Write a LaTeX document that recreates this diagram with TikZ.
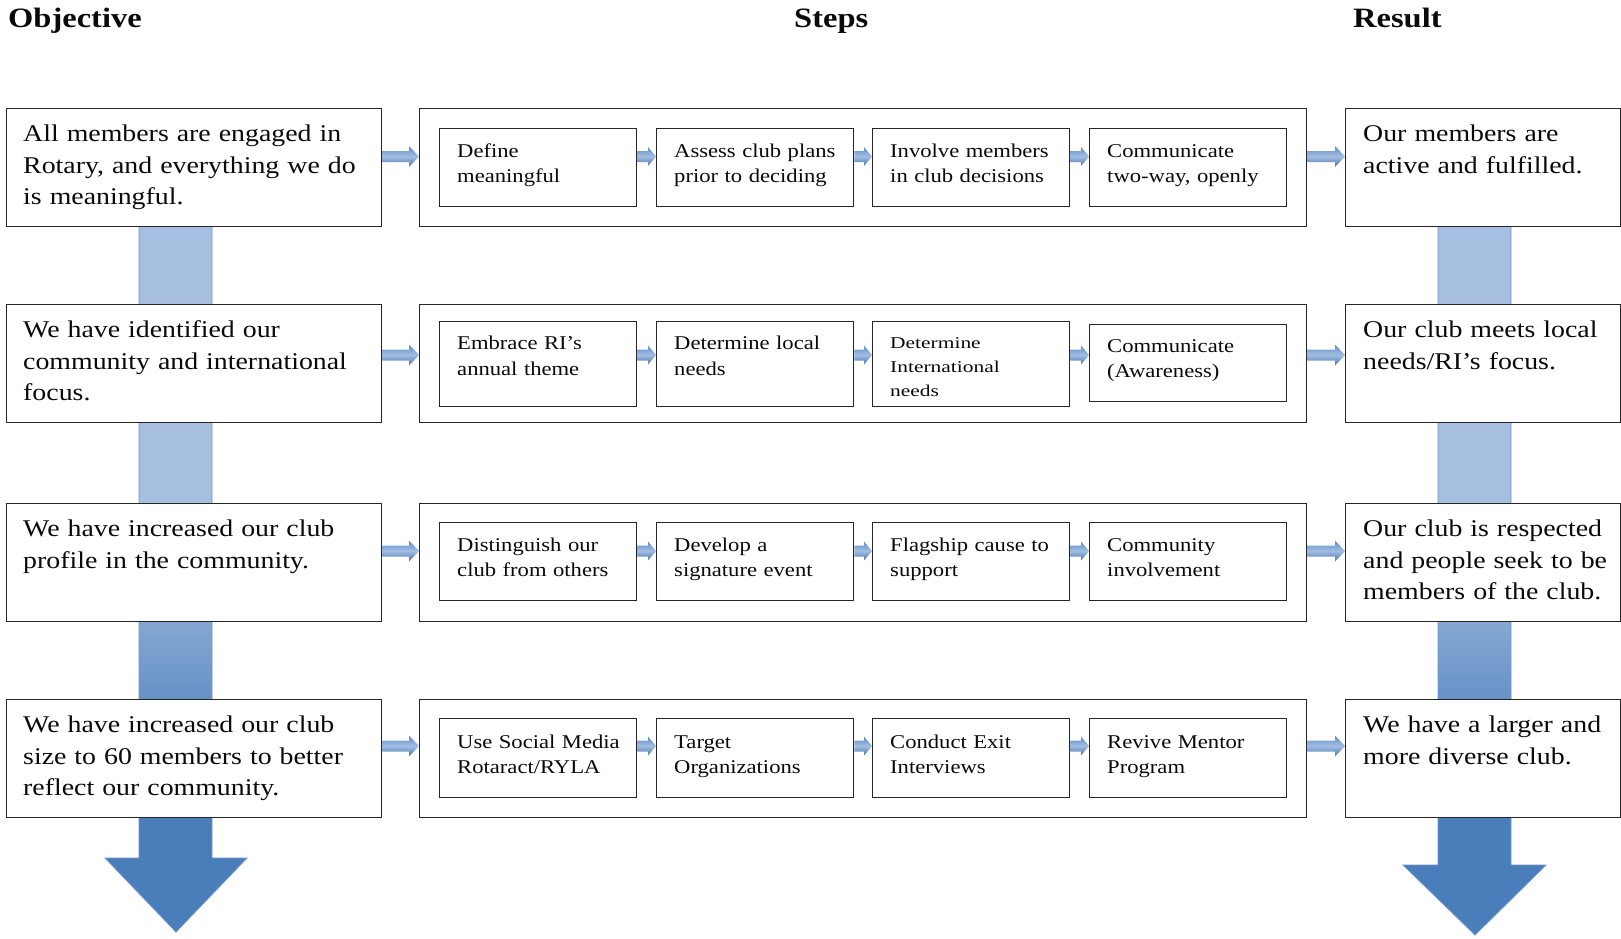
\documentclass[tikz,border=0pt]{standalone}
\usepackage{fontspec}
\setmainfont{Liberation Serif}[FakeStretch=1.16]
\newfontfamily\widefont{Liberation Serif}[FakeStretch=1.3]
\usetikzlibrary{calc}
\definecolor{arrdark}{HTML}{4A7EBB}
\definecolor{arrlight}{HTML}{A6BEE0}
\definecolor{arredge}{HTML}{7096C8}
\definecolor{boxline}{HTML}{262626}
\definecolor{txt}{HTML}{0A0A0A}
\definecolor{harrtop}{HTML}{5F8DC8}
\definecolor{harrmid}{HTML}{A3BEE2}
\definecolor{harrbot}{HTML}{4573AE}
\pgfdeclareverticalshading{bigarrowshade}{100bp}{color(0bp)=(arrdark); color(36bp)=(arrdark); color(52bp)=(arrlight); color(100bp)=(arrlight)}
\newcommand\objfont{\fontsize{24}{31.5}\selectfont}
\newcommand\stepfont{\fontsize{19.5}{25.5}\selectfont}
\newcommand\narrowstepfont{\widefont\fontsize{16.5}{24}\selectfont}
\newcommand\headfont{\fontsize{28}{32}\selectfont\bfseries}
\newcommand\blockarr[5]{\shade[harrow] ($#1+(0,-#3)$) -- ($#2+(-#5,-#3)$) -- ($#2+(-#5,-#4)$) -- #2 -- ($#2+(-#5,#4)$) -- ($#2+(-#5,#3)$) -- ($#1+(0,#3)$) -- cycle;}
\begin{document}
\begin{tikzpicture}[x=1pt,y=-1pt,
  harrow/.style={top color=harrtop, bottom color=harrbot, middle color=harrmid},
  box/.style={draw=boxline, line width=1.3pt, fill=white, inner sep=0pt, anchor=north west},
  objbox/.style={box, minimum width=375pt, minimum height=118pt},
  stepsbox/.style={box, minimum width=887pt, minimum height=118pt},
  resbox/.style={box, minimum width=274.5pt, minimum height=118pt},
  innerbox/.style={box, minimum width=197pt, minimum height=78pt},
  bodytext/.style={anchor=base west, inner sep=0pt, align=left, text=txt, font=\objfont, text width=352pt},
  restext/.style={bodytext, text width=256pt},
  steptext/.style={anchor=base west, inner sep=0pt, align=left, text=txt, font=\stepfont, text width=186pt},
  headtext/.style={anchor=base west, inner sep=0pt, text=txt, font=\headfont}]
\useasboundingbox (0,0) rectangle (1621,938);
\fill[white] (0,0) rectangle (1621,938);
% headings
\node[headtext] (hObj) at (8,27) {Objective};
\node[headtext] (hSteps) at (794,27) {Steps};
\node[headtext] (hRes) at (1353,27) {Result};
% big vertical arrows
\shadedraw[shading=bigarrowshade, draw=arredge, line width=0.8pt] (139,200) -- (212,200) -- (212,858) -- (247,858) -- (176,932) -- (105,858) -- (139,858) -- cycle;
\shadedraw[shading=bigarrowshade, draw=arredge, line width=0.8pt] (1438,200) -- (1511,200) -- (1511,865) -- (1546,865) -- (1475,935) -- (1403,865) -- (1438,865) -- cycle;
% row coordinates
\coordinate (r1) at (0,156.5);
\coordinate (r2) at (0,355);
\coordinate (r3) at (0,551);
\coordinate (r4) at (0,746);
% row 1
\node[objbox] (L1) at (6,108) {};
\node[stepsbox] (S1) at (419,108) {};
\node[resbox] (R1) at (1345,108) {};
\node[innerbox] (S1a) at (439,128) {};
\node[innerbox] (S1b) at (656,128) {};
\node[innerbox] (S1c) at (872,128) {};
\node[innerbox] (S1d) at (1089,128) {};
% row 2
\node[objbox] (L2) at (6,304) {};
\node[stepsbox] (S2) at (419,304) {};
\node[resbox] (R2) at (1345,304) {};
\node[innerbox, minimum height=85pt] (S2a) at (439,320.5) {};
\node[innerbox, minimum height=85pt] (S2b) at (656,320.5) {};
\node[innerbox, minimum height=85pt] (S2c) at (872,320.5) {};
\node[innerbox, minimum height=77pt] (S2d) at (1089,324) {};
% row 3
\node[objbox] (L3) at (6,503) {};
\node[stepsbox] (S3) at (419,503) {};
\node[resbox] (R3) at (1345,503) {};
\node[innerbox] (S3a) at (439,522) {};
\node[innerbox] (S3b) at (656,522) {};
\node[innerbox] (S3c) at (872,522) {};
\node[innerbox] (S3d) at (1089,522) {};
% row 4
\node[objbox] (L4) at (6,699) {};
\node[stepsbox] (S4) at (419,699) {};
\node[resbox] (R4) at (1345,699) {};
\node[innerbox, minimum height=79pt] (S4a) at (439,718) {};
\node[innerbox, minimum height=79pt] (S4b) at (656,718) {};
\node[innerbox, minimum height=79pt] (S4c) at (872,718) {};
\node[innerbox, minimum height=79pt] (S4d) at (1089,718) {};
% texts
\node[bodytext] (L1t) at ($(L1.north west)+(17,33.5)$) {All members are engaged in\\Rotary, and everything we do\\is meaningful.};
\node[bodytext] (L2t) at ($(L2.north west)+(17,33.5)$) {We have identified our\\community and international\\focus.};
\node[bodytext] (L3t) at ($(L3.north west)+(17,33.5)$) {We have increased our club\\profile in the community.};
\node[bodytext] (L4t) at ($(L4.north west)+(17,33.5)$) {We have increased our club\\size to 60 members to better\\reflect our community.};
\node[restext] (R1t) at ($(R1.north west)+(18,33.5)$) {Our members are\\active and fulfilled.};
\node[restext] (R2t) at ($(R2.north west)+(18,33.5)$) {Our club meets local\\needs/RI’s focus.};
\node[restext] (R3t) at ($(R3.north west)+(18,33.5)$) {Our club is respected\\and people seek to be\\members of the club.};
\node[restext] (R4t) at ($(R4.north west)+(18,33.5)$) {We have a larger and\\more diverse club.};
\node[steptext] (S1at) at ($(S1a.north west)+(18,29)$) {Define\\meaningful};
\node[steptext] (S1bt) at ($(S1b.north west)+(18,29)$) {Assess club plans\\prior to deciding};
\node[steptext] (S1ct) at ($(S1c.north west)+(18,29)$) {Involve members\\in club decisions};
\node[steptext] (S1dt) at ($(S1d.north west)+(18,29)$) {Communicate\\two-way, openly};
\node[steptext] (S2at) at ($(S2a.north west)+(18,29)$) {Embrace RI’s\\annual theme};
\node[steptext] (S2bt) at ($(S2b.north west)+(18,29)$) {Determine local\\needs};
\node[steptext, font=\narrowstepfont] (S2ct) at ($(S2c.north west)+(18,27.5)$) {Determine\\International\\needs};
\node[steptext] (S2dt) at ($(S2d.north west)+(18,28)$) {Communicate\\(Awareness)};
\node[steptext] (S3at) at ($(S3a.north west)+(18,29)$) {Distinguish our\\club from others};
\node[steptext] (S3bt) at ($(S3b.north west)+(18,29)$) {Develop a\\signature event};
\node[steptext] (S3ct) at ($(S3c.north west)+(18,29)$) {Flagship cause to\\support};
\node[steptext] (S3dt) at ($(S3d.north west)+(18,29)$) {Community\\involvement};
\node[steptext] (S4at) at ($(S4a.north west)+(18,30)$) {Use Social Media\\Rotaract/RYLA};
\node[steptext] (S4bt) at ($(S4b.north west)+(18,30)$) {Target\\Organizations};
\node[steptext] (S4ct) at ($(S4c.north west)+(18,30)$) {Conduct Exit\\Interviews};
\node[steptext] (S4dt) at ($(S4d.north west)+(18,30)$) {Revive Mentor\\Program};
% horizontal block arrows
\foreach \r in {1,2,3,4}{
  \blockarr{(L\r.east|-r\r)}{(S\r.west|-r\r)}{5.5}{10.5}{10}
  \blockarr{(S\r.east|-r\r)}{(R\r.west|-r\r)}{5.5}{10.5}{10}
  \blockarr{(S\r a.east|-r\r)}{(S\r b.west|-r\r)}{5.5}{9.5}{8}
  \blockarr{(S\r b.east|-r\r)}{(S\r c.west|-r\r)}{5.5}{9.5}{8}
  \blockarr{(S\r c.east|-r\r)}{(S\r d.west|-r\r)}{5.5}{9.5}{8}
}
\end{tikzpicture}
\end{document}
